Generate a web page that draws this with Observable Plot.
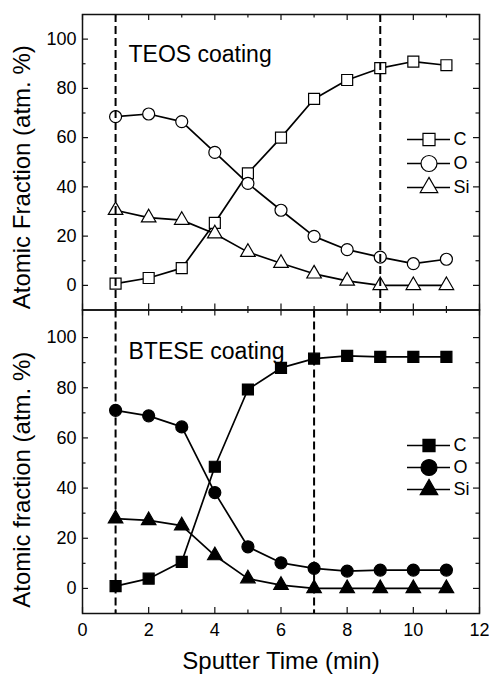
<!DOCTYPE html>
<html><head><meta charset="utf-8">
<script src="https://cdn.jsdelivr.net/npm/d3@7"></script>
<script src="https://cdn.jsdelivr.net/npm/@observablehq/plot@0.6"></script>
<style>
html,body{margin:0;padding:0;background:#fff;}
#chart{position:relative;width:489px;height:674px;font-family:"Liberation Sans",Arial,Helvetica,sans-serif;}
#chart > svg, #chart > div{position:absolute;left:0;top:0;}
</style></head>
<body><div id="chart"></div>
<script>
// ---- data ----
const times = [1, 2, 3, 4, 5, 6, 7, 8, 9, 10, 11];
const elements = ["C", "O", "Si"];
// TEOS coating (open symbols)
const teosC  = [0.7, 3.0, 7.0, 25.4, 45.5, 60.0, 75.7, 83.4, 88.2, 90.9, 89.4];
const teosO  = [68.5, 69.6, 66.5, 54.0, 41.4, 30.5, 19.9, 14.5, 11.5, 8.8, 10.6];
const teosSi = [30.5, 27.5, 26.5, 21.0, 13.5, 9.0, 4.7, 1.8, 0.0, 0.0, 0.0];
// BTESE coating (filled symbols)
const btC  = [0.9, 3.9, 10.6, 48.5, 79.3, 87.9, 91.6, 92.7, 92.3, 92.3, 92.3];
const btO  = [71.0, 68.8, 64.4, 38.2, 16.6, 10.2, 8.0, 6.9, 7.3, 7.3, 7.3];
const btSi = [27.8, 27.1, 25.0, 13.1, 3.9, 1.3, 0.0, 0.0, 0.0, 0.0, 0.0];
// reference (dashed) lines
const teosDashed = [1, 9];
const btDashed = [1, 7];
// ticks
const xMajor = [0, 2, 4, 6, 8, 10, 12];
const xMinor = [1, 3, 5, 7, 9, 11];
const yMajor = [0, 20, 40, 60, 80, 100];
const yMinor = [10, 30, 50, 70, 90];
// texts
const teosLabel = "TEOS coating";
const btLabel = "BTESE coating";
const teosYTitle = "Atomic Fraction (atm. %)";
const btYTitle = "Atomic fraction (atm. %)";
const xTitle = "Sputter Time (min)";

// ---- layout ----
const W = 489, H = 674, L = 82, R = 479;
const FONT = '"Liberation Sans", Arial, Helvetica, sans-serif';
const symbols = {C: "square", O: "circle", Si: "triangle"};
const dataR = {C: 6.2, O: 6, Si: 5.4};
const legR = {C: 6.8, O: 8, Si: 6.5};
const INK = "#111";

function panel(o) {
  const ph = o.bottom - o.top;
  const pw = R - L;
  const fill = o.filled ? "black" : "white";
  const vals = {C: o.C, O: o.O, Si: o.Si};
  const tickStyle = {stroke: INK, strokeWidth: 1.2};
  const marks = [];
  // inward ticks on all four sides
  for (const [arr, len] of [[xMajor, 6], [xMinor, 3.5]]) {
    marks.push(Plot.ruleX(arr, {x: d => d, insetBottom: ph - len, ...tickStyle}));
    marks.push(Plot.ruleX(arr, {x: d => d, insetTop: ph - len, ...tickStyle}));
  }
  for (const [arr, len] of [[yMajor, 6], [yMinor, 3.5]]) {
    marks.push(Plot.ruleY(arr, {y: d => d, insetRight: pw - len, ...tickStyle}));
    marks.push(Plot.ruleY(arr, {y: d => d, insetLeft: pw - len, ...tickStyle}));
  }
  for (const e of elements) {
    const rows = times.map((t, i) => ({t, v: vals[e][i]}));
    marks.push(Plot.line(rows, {x: "t", y: "v", stroke: "black", strokeWidth: 1.7}));
  }
  for (const e of elements) {
    const rows = times.map((t, i) => ({t, v: vals[e][i]}));
    marks.push(Plot.dot(rows, {x: "t", y: "v", symbol: symbols[e], r: dataR[e], fill, stroke: "black", strokeWidth: 1.2}));
  }
  marks.push(Plot.ruleX(o.dashed, {x: d => d, stroke: "black", strokeWidth: 2, strokeDasharray: "8,4"}));
  marks.push(Plot.frame({stroke: INK, strokeWidth: 1.5}));
  marks.push(Plot.axisY({ticks: yMajor, tickSize: 0, tickPadding: 6, fontSize: 18, label: null, tickFormat: d => String(d)}));
  marks.push(Plot.text([o.label], {frameAnchor: "top-left", dx: 46, dy: o.labelDy, lineAnchor: "top", textAnchor: "start", fontSize: 23, fill: "black"}));
  marks.push(Plot.text([o.yTitle], {frameAnchor: "left", dx: -60, dy: o.titleDy, rotate: -90, lineAnchor: "middle", textAnchor: "middle", fontSize: 24, fill: "black"}));
  if (o.xAxis) {
    marks.push(Plot.axisX({ticks: xMajor, tickSize: 0, tickPadding: 10, fontSize: 18, label: null, tickFormat: d => String(d)}));
    marks.push(Plot.text([xTitle], {frameAnchor: "bottom", dy: 48, lineAnchor: "middle", textAnchor: "middle", fontSize: 24, fill: "black"}));
  }
  return Plot.plot({
    width: W, height: H,
    marginLeft: L, marginRight: W - R, marginTop: o.top, marginBottom: H - o.bottom,
    x: {domain: [0, 12], axis: null},
    y: {domain: [-10, o.yMax], axis: null},
    style: {background: "transparent", fontFamily: FONT, overflow: "visible", color: "black"},
    marks
  });
}

function legend(o) {
  const fill = o.filled ? "black" : "white";
  const marks = [
    Plot.ruleY(elements, {y: d => d, x1: 0, x2: 1, stroke: "black", strokeWidth: 1.7})
  ];
  for (const e of elements) {
    marks.push(Plot.dot([e], {x: 0.5, y: d => d, symbol: symbols[e], r: legR[e], fill, stroke: "black", strokeWidth: 1.2}));
  }
  marks.push(Plot.text(elements, {x: 1, y: d => d, text: d => d, dx: 3, textAnchor: "start", lineAnchor: "middle", fontSize: 18, fill: "black"}));
  const p = Plot.plot({
    width: 90, height: 80,
    marginLeft: 7, marginRight: 40, marginTop: o.mt, marginBottom: o.mb,
    x: {domain: [0, 1], axis: null},
    y: {type: "point", domain: elements, padding: 0, axis: null},
    style: {background: "transparent", fontFamily: FONT, overflow: "visible"},
    marks
  });
  p.style.left = "400px";
  p.style.top = o.top + "px";
  return p;
}

const chart = document.getElementById("chart");
chart.append(panel({C: teosC, O: teosO, Si: teosSi, filled: false, dashed: teosDashed,
  label: teosLabel, labelDy: 31, yTitle: teosYTitle, titleDy: 15, top: 14, bottom: 309.5, yMax: 110, xAxis: false}));
chart.append(panel({C: btC, O: btO, Si: btSi, filled: true, dashed: btDashed,
  label: btLabel, labelDy: 33, yTitle: btYTitle, titleDy: 18, top: 309.5, bottom: 613, yMax: 111, xAxis: true}));
chart.append(legend({filled: false, top: 125, mt: 14, mb: 18}));
chart.append(legend({filled: true, top: 430, mt: 15, mb: 21}));
</script>
</body></html>
